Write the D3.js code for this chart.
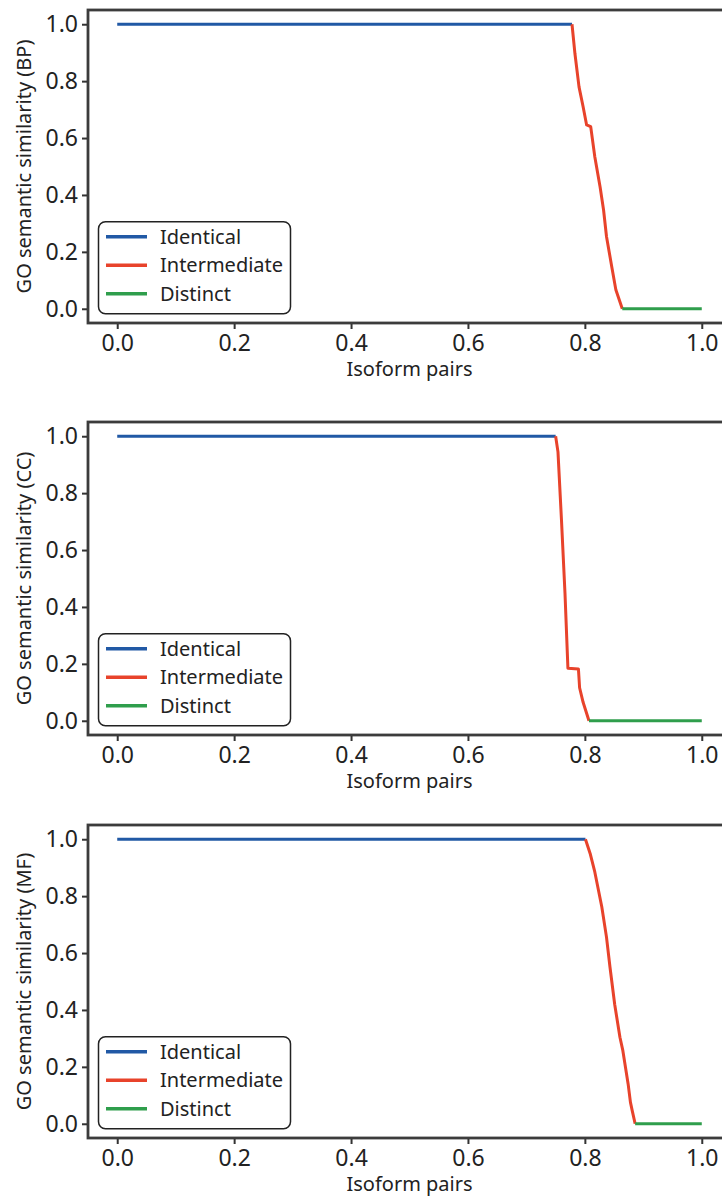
<!DOCTYPE html>
<html><head><meta charset="utf-8">
<script src="https://cdn.jsdelivr.net/npm/d3@7"></script>
<style>
html,body{margin:0;padding:0;background:#fff;overflow:hidden;}
text{font-family:"Noto Sans",sans-serif;fill:#222;}
</style></head>
<body>
<svg id="chart" width="722" height="1197"></svg>
<script>
// ---- data ----
const panelNames = ["BP", "CC", "MF"];
const seriesNames = ["Identical", "Intermediate", "Distinct"];
const tickValues = [0, 0.2, 0.4, 0.6, 0.8, 1.0];

const bpIdentical = [[0, 1], [0.778, 1]];
const bpIntermediate = [[0.778, 1], [0.783, 0.897], [0.790, 0.78], [0.797, 0.71], [0.803, 0.646], [0.810, 0.640],
  [0.817, 0.534], [0.826, 0.429], [0.832, 0.347], [0.837, 0.254], [0.846, 0.148], [0.853, 0.067], [0.864, 0.0]];
const bpDistinct = [[0.864, 0], [1.0, 0]];

const ccIdentical = [[0, 1], [0.750, 1]];
const ccIntermediate = [[0.750, 1], [0.754, 0.945], [0.760, 0.705], [0.766, 0.448], [0.771, 0.185], [0.789, 0.182],
  [0.791, 0.116], [0.797, 0.065], [0.807, 0.0]];
const ccDistinct = [[0.807, 0], [1.0, 0]];

const mfIdentical = [[0, 1], [0.801, 1]];
const mfIntermediate = [[0.801, 1], [0.809, 0.95], [0.817, 0.885], [0.829, 0.762], [0.837, 0.656], [0.843, 0.55],
  [0.851, 0.42], [0.860, 0.304], [0.865, 0.257], [0.874, 0.14], [0.878, 0.075], [0.881, 0.046], [0.886, 0.0]];
const mfDistinct = [[0.886, 0], [1.0, 0]];

const panelData = [
  [bpIdentical, bpIntermediate, bpDistinct],
  [ccIdentical, ccIntermediate, ccDistinct],
  [mfIdentical, mfIntermediate, mfDistinct]
];

// ---- layout ----
const colors = ["#2159a5", "#e8432b", "#2f9e4c"];
const panelTops = [10, 422, 825];
const panelH = 313;
const left = 88, right = 731;

const svg = d3.select("#chart");
const x = d3.scaleLinear().domain([-0.05, 1.05]).range([left, right]);

panelNames.forEach((name, pi) => {
  const top = panelTops[pi], bottom = top + panelH;
  const y = d3.scaleLinear().domain([-0.05, 1.05]).range([bottom, top]);
  const g = svg.append("g");

  // lines
  const line = d3.line().x(d => x(d[0])).y(d => y(d[1]));
  panelData[pi].forEach((s, si) => {
    g.append("path").attr("d", line(s)).attr("fill", "none")
      .attr("stroke", colors[si]).attr("stroke-width", 3).attr("stroke-linejoin", "round");
  });

  // frame
  g.append("rect").attr("x", left).attr("y", top).attr("width", right - left).attr("height", panelH)
    .attr("fill", "none").attr("stroke", "#3c3c3c").attr("stroke-width", 2.8);

  // y axis
  const ya = g.append("g").attr("transform", `translate(${left - 1},0)`)
    .call(d3.axisLeft(y).tickValues(tickValues).tickFormat(d3.format(".1f")).tickSize(5).tickPadding(4));
  ya.select(".domain").remove();
  ya.selectAll(".tick line").attr("stroke", "#333").attr("stroke-width", 2);
  ya.selectAll(".tick text").style("font-size", "23px").attr("font-family", "Noto Sans").attr("fill", "#222");

  // x axis
  const xa = g.append("g").attr("transform", `translate(0,${bottom + 1})`)
    .call(d3.axisBottom(x).tickValues(tickValues).tickFormat(d3.format(".1f")).tickSize(5).tickPadding(6));
  xa.select(".domain").remove();
  xa.selectAll(".tick line").attr("stroke", "#333").attr("stroke-width", 2);
  xa.selectAll(".tick text").style("font-size", "23px").attr("font-family", "Noto Sans").attr("fill", "#222");

  // axis titles
  g.append("text").attr("x", (left + right) / 2).attr("y", bottom + 53)
    .attr("text-anchor", "middle").style("font-size", "20px").text("Isoform pairs");
  g.append("text").attr("transform", `translate(31,${(top + bottom) / 2}) rotate(-90)`)
    .attr("text-anchor", "middle").style("font-size", "20px").text(`GO semantic similarity (${name})`);

  // legend
  const y0 = y(0);
  const lg = g.append("g");
  lg.append("rect").attr("x", 98.5).attr("y", y0 - 87).attr("width", 192).attr("height", 92)
    .attr("rx", 7).attr("fill", "#fff").attr("stroke", "#222").attr("stroke-width", 1.5);
  seriesNames.forEach((s, si) => {
    const ly = y0 - 72 + si * 28.5;
    lg.append("line").attr("x1", 106).attr("x2", 147).attr("y1", ly).attr("y2", ly)
      .attr("stroke", colors[si]).attr("stroke-width", 3.5);
    lg.append("text").attr("x", 160).attr("y", ly + 7).style("font-size", "20px").text(s);
  });
});
</script>
</body></html>
